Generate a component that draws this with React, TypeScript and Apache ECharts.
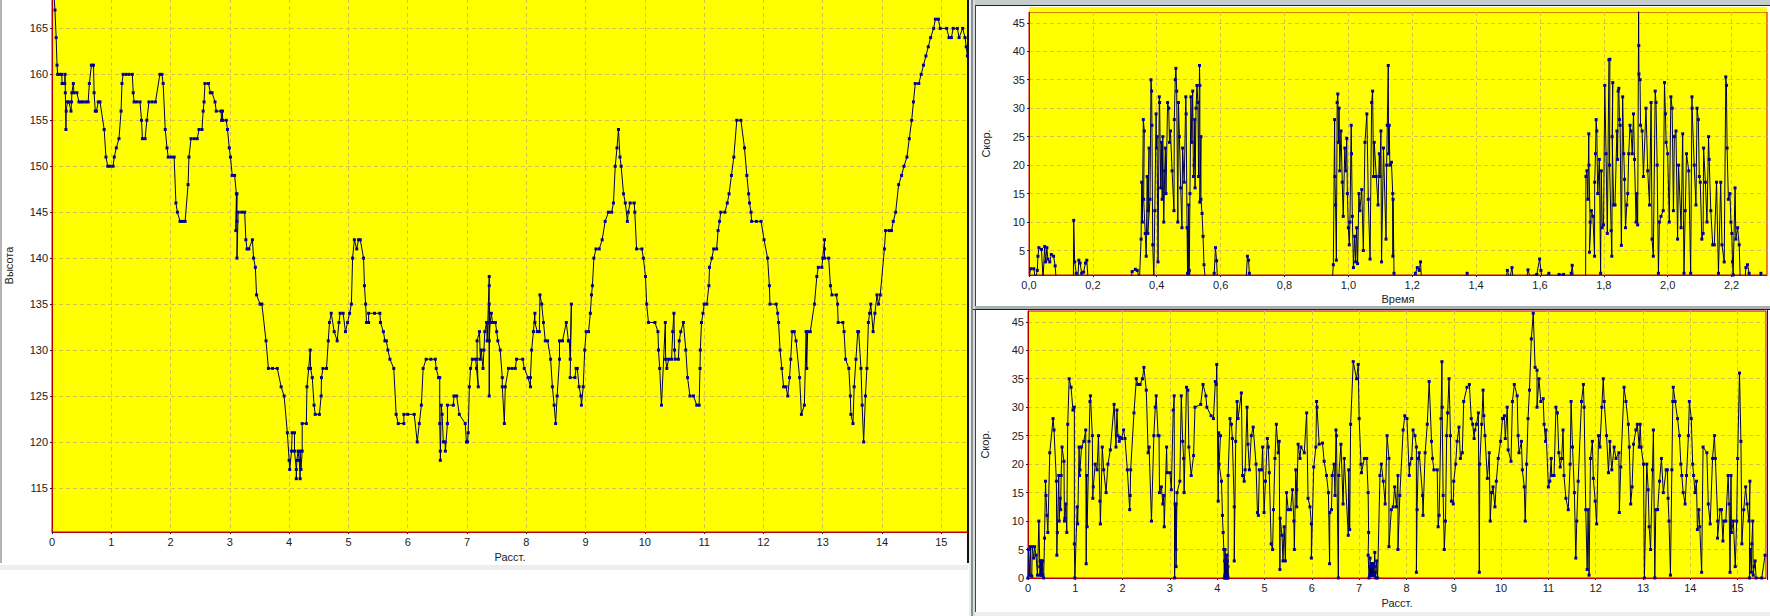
import React, { useEffect, useRef } from "react";
import * as echarts from "echarts";

const altitudeTicks = [115, 120, 125, 130, 135, 140, 145, 150, 155, 160, 165];
const distanceTicks = [0, 1, 2, 3, 4, 5, 6, 7, 8, 9, 10, 11, 12, 13, 14, 15];
const speedTicksTop = [5, 10, 15, 20, 25, 30, 35, 40, 45];
const speedTicksBottom = [0, 5, 10, 15, 20, 25, 30, 35, 40, 45];
const timeTicks = [0, 0.2, 0.4, 0.6, 0.8, 1.0, 1.2, 1.4, 1.6, 1.8, 2.0, 2.2];

const altitudeA: number[][] = [
  [0.03, 169],[0.05, 167],[0.07, 164],[0.085, 161],[0.095, 160],[0.13, 160],[0.165, 160],[0.17, 159],[0.185, 159],[0.215, 159],[0.22, 160],[0.225, 158],[0.235, 154],[0.24, 156],[0.26, 157],[0.285, 157],[0.32, 156],[0.33, 157],[0.335, 158],[0.36, 159],[0.37, 158],[0.42, 158],[0.455, 157],[0.49, 157],[0.525, 157],[0.57, 157],[0.61, 157],[0.63, 159],[0.665, 161],[0.70, 161],[0.71, 158],[0.73, 156],[0.75, 156],[0.78, 157],[0.81, 157],[0.88, 154],[0.91, 151],[0.94, 150],[0.98, 150],[1.03, 150],[1.05, 151],[1.085, 152],[1.13, 153],[1.165, 156],[1.18, 159],[1.2, 160],[1.25, 160],[1.3, 160],[1.355, 160],[1.37, 158],[1.385, 157],[1.43, 157],[1.485, 157],[1.51, 155],[1.525, 153],[1.57, 153],[1.60, 155],[1.635, 157],[1.69, 157],[1.745, 157],[1.82, 160],[1.855, 160],[1.875, 159],[1.91, 154],[1.94, 152],[1.96, 151],[2.01, 151],[2.06, 151],[2.09, 146],[2.115, 145],[2.16, 144],[2.2, 144],[2.245, 144],[2.295, 148],[2.31, 151],[2.345, 153],[2.4, 153],[2.45, 153],[2.48, 154],[2.53, 154],[2.55, 156],[2.565, 157],[2.58, 159],[2.64, 159],[2.67, 158],[2.70, 158],[2.75, 157],[2.77, 156],[2.85, 156],[2.86, 155],[2.875, 156],[2.88, 155],[2.94, 155],[2.96, 154],[2.99, 152],[3.01, 151],[3.04, 149],[3.08, 149],[3.11, 147],[3.1, 143],[3.12, 147],[3.12, 144],[3.12, 140],[3.14, 145],[3.2, 145],[3.25, 145],[3.27, 142],[3.29, 141],[3.32, 141],[3.38, 142],[3.40, 140],[3.43, 139],[3.45, 136],[3.51, 135],[3.54, 135],[3.61, 131],[3.65, 128],[3.72, 128],[3.80, 128],[3.865, 126],[3.915, 125],[3.97, 121],[4.00, 118],[4.01, 117],[4.04, 119],[4.05, 121],[4.09, 121],[4.09, 119],[4.12, 117],[4.12, 116],[4.13, 118],[4.15, 119],[4.17, 118],[4.185, 116],[4.185, 119],[4.2, 117],[4.22, 119],[4.22, 122],[4.29, 122],[4.30, 126],[4.33, 128],[4.355, 130],[4.36, 128],[4.39, 127],[4.42, 124],[4.44, 123],[4.51, 123],[4.54, 125],[4.545, 127],[4.57, 128],[4.63, 128],[4.66, 131],[4.68, 133],[4.71, 134],[4.76, 132],[4.81, 131],[4.84, 133],[4.86, 134],[4.91, 134],[4.95, 132],[4.985, 133],[5.02, 134],[5.05, 135],[5.07, 140],[5.10, 142],[5.14, 141],[5.17, 142],[5.20, 142],[5.255, 140],[5.27, 137],[5.29, 135],[5.305, 133],[5.34, 133],[5.34, 134],[5.44, 134],[5.53, 134],[5.54, 133],[5.59, 132],[5.615, 131],[5.64, 131],[5.665, 130],[5.70, 129],[5.765, 128],[5.805, 123],[5.84, 122],[5.935, 122],[5.935, 123],[6.00, 123],[6.11, 123],[6.16, 120],[6.195, 122],[6.23, 124],[6.26, 128],[6.31, 129],[6.39, 129],[6.465, 129],[6.48, 128],[6.52, 127],[6.54, 127],[6.54, 122],[6.55, 119],[6.55, 118],[6.565, 124],[6.58, 123],[6.60, 120],[6.63, 120],[6.635, 119],[6.67, 122],[6.67, 124],[6.77, 124],[6.78, 125],[6.825, 125],[6.87, 123],[6.97, 122],[6.99, 120],[7.01, 120],[7.02, 121],[7.04, 126],[7.06, 128],[7.09, 129],[7.145, 129],[7.16, 128],[7.19, 126],[7.17, 129],[7.17, 131],[7.21, 132],[7.225, 129],[7.24, 130],[7.27, 128],[7.285, 130],[7.30, 132],[7.33, 133],[7.34, 131],[7.35, 133],[7.375, 138],[7.375, 137],[7.375, 125],[7.375, 135],[7.375, 131],[7.39, 133],[7.41, 134],[7.43, 133],[7.48, 133],[7.50, 132],[7.52, 131],[7.56, 130],[7.595, 127],[7.595, 126],[7.63, 122],[7.645, 126],[7.70, 128],[7.76, 128],[7.815, 128],[7.835, 129],[7.94, 129],[7.965, 128],[8.03, 127],[8.07, 126],[8.07, 127],[8.09, 130],[8.12, 132],[8.145, 134],[8.145, 133],[8.185, 132],[8.22, 132],[8.23, 136],[8.26, 135],[8.29, 133],[8.32, 131],[8.36, 131],[8.41, 129],[8.44, 126],[8.47, 124],[8.495, 122],[8.52, 125],[8.56, 129],[8.56, 131],[8.61, 131],[8.675, 133],[8.71, 131],[8.725, 131],[8.74, 129],[8.76, 135],[8.74, 127],[8.82, 127],[8.84, 128],[8.86, 128],[8.89, 126],[8.92, 125],[8.93, 124],[8.96, 126],[8.985, 130],[9.01, 132],[9.05, 132],[9.08, 134],[9.10, 136],[9.115, 137],[9.14, 140],[9.175, 141],[9.23, 141],[9.28, 142],[9.33, 144],[9.385, 145],[9.44, 145],[9.47, 146],[9.50, 150],[9.53, 152],[9.555, 154],[9.58, 151],[9.60, 150],[9.64, 147],[9.67, 146],[9.705, 144],[9.72, 145],[9.75, 146],[9.82, 146],[9.83, 145],[9.86, 141],[9.95, 141],[9.975, 140],[10.01, 138],[10.03, 135],[10.06, 133],[10.17, 133],[10.22, 132],[10.23, 130],[10.25, 128],[10.28, 124],[10.345, 133],[10.35, 129],[10.37, 128],[10.40, 129],[10.45, 129],[10.47, 132],[10.49, 134],[10.50, 130],[10.51, 129],[10.565, 129],[10.58, 131],[10.605, 132],[10.65, 133],[10.69, 130],[10.72, 127],[10.76, 125],[10.82, 125],[10.875, 124],[10.915, 124],[10.93, 128],[10.935, 130],[10.955, 133],[10.98, 134],[11.0, 135],[11.045, 135],[11.08, 137],[11.09, 139],[11.13, 140],[11.16, 141],[11.21, 141],[11.235, 143],[11.26, 144],[11.28, 145],[11.35, 145],[11.39, 146],[11.42, 147],[11.46, 149],[11.5, 151],[11.55, 155],[11.62, 155],[11.68, 152],[11.72, 149],[11.75, 147],[11.765, 146],[11.79, 145],[11.80, 144],[11.88, 144],[11.96, 144],[12.01, 142],[12.07, 140],[12.10, 137],[12.11, 135],[12.215, 135],[12.24, 134],[12.255, 133],[12.28, 130],[12.31, 128],[12.34, 126],[12.38, 126],[12.41, 125],[12.44, 127],[12.46, 129],[12.485, 132],[12.52, 132],[12.55, 131],[12.61, 127],[12.64, 123],[12.69, 124],[12.72, 132],[12.73, 128],[12.745, 132],[12.79, 132],[12.86, 135],[12.90, 138],[12.925, 139],[12.985, 139],[13.0, 140],[13.03, 142],[13.03, 141],[13.03, 140],[13.10, 140],[13.13, 137],[13.155, 136],[13.23, 136],[13.25, 135],[13.26, 133],[13.34, 133],[13.36, 132],[13.385, 129],[13.44, 128],[13.465, 125],[13.475, 123],[13.51, 122],[13.53, 126],[13.56, 129],[13.59, 132],[13.605, 132],[13.645, 128],[13.665, 124],[13.69, 120],[13.72, 125],[13.745, 128],[13.77, 133],[13.79, 134],[13.81, 135],[13.85, 132],[13.88, 134],[13.915, 136],[13.94, 135],[13.97, 136],[14.04, 141],[14.06, 143],[14.12, 143],[14.16, 143],[14.19, 144],[14.23, 145],[14.28, 148],[14.33, 149],[14.37, 150],[14.42, 151],[14.46, 153],[14.5, 155],[14.53, 157],[14.56, 159],[14.62, 159],[14.66, 160],[14.7, 161],[14.74, 162],[14.78, 163],[14.82, 164],[14.87, 165],[14.9, 166],[14.95, 166],[14.98, 165],[15.09, 165],[15.13, 164],[15.17, 164],[15.2, 165],[15.27, 165],[15.3, 164],[15.36, 165],[15.4, 164],[15.42, 163],[15.44, 162],
];

const speedByDistance: number[][] = [
  [0,0],[0.01,5],[0.03,0.5],[0.05,5.5],[0.06,0.5],[0.08,0.3],[0.09,5.5],[0.12,3.5],[0.14,5.5],[0.17,4],[0.2,0.5],[0.23,10],[0.25,2],[0.255,0.5],[0.26,3],[0.27,1],[0.275,3],[0.28,0.5],[0.29,3],[0.295,0.5],[0.31,3],[0.315,0.5],[0.33,0],[0.35,7],[0.37,17],[0.38,14.5],[0.40,11],[0.42,8],[0.46,22],[0.53,28],[0.55,26],[0.60,17],[0.61,4],[0.62,8],[0.65,18],[0.66,10],[0.68,14],[0.69,12],[0.70,18],[0.72,23],[0.76,20.5],[0.77,10],[0.78,10.5],[0.80,13],[0.82,8],[0.84,27],[0.87,35],[0.91,33.5],[0.95,29.5],[0.98,30],[0.98,6],[0.99,0],[1.04,12.5],[1.05,9.5],[1.08,23],[1.09,18],[1.1,19],[1.13,23],[1.18,24],[1.22,26],[1.23,2.5],[1.24,18],[1.25,9],[1.29,24],[1.31,31],[1.32,32],[1.36,25],[1.37,14],[1.38,16],[1.42,20],[1.46,19],[1.49,25],[1.52,13.5],[1.53,9.5],[1.57,23],[1.6,19],[1.65,15],[1.69,20],[1.74,22.5],[1.82,30.5],[1.86,23],[1.88,29.5],[1.9,25],[1.93,24],[1.95,24.7],[1.98,24.5],[2.02,26],[2.05,24.5],[2.1,19],[2.15,12],[2.16,14.5],[2.17,19],[2.24,29],[2.29,35],[2.32,34],[2.37,34],[2.42,35],[2.45,37],[2.5,33],[2.54,22],[2.56,23],[2.61,10],[2.66,25],[2.69,30],[2.71,32],[2.75,25],[2.77,25],[2.78,15],[2.82,16],[2.85,13],[2.87,14.5],[2.88,9],[2.93,23],[2.94,18.5],[3.0,18.5],[3.03,15.5],[3.07,29.5],[3.09,32],[3.1,0],[3.11,13],[3.12,9],[3.125,5],[3.13,13],[3.13,2],[3.15,15],[3.21,17],[3.24,32],[3.27,24],[3.29,21],[3.3,15],[3.35,33.5],[3.38,33],[3.4,23],[3.45,18],[3.5,21.5],[3.53,30],[3.65,30.5],[3.7,34],[3.76,32],[3.78,30],[3.87,28.5],[3.92,28],[3.96,34.5],[3.98,34],[3.99,37.5],[4.02,13.5],[4.03,25.5],[4.07,25],[4.04,20],[4.09,17],[4.11,11],[4.125,8],[4.14,5],[4.15,0],[4.155,3],[4.16,0.5],[4.165,5],[4.17,0],[4.175,3],[4.18,0.5],[4.185,4],[4.19,0],[4.195,3],[4.2,0.5],[4.205,4],[4.21,0],[4.215,3],[4.22,0.5],[4.225,2],[4.23,0],[4.23,18],[4.27,28],[4.3,27],[4.32,24.5],[4.36,12.5],[4.36,3],[4.39,24],[4.42,31],[4.44,28],[4.51,32.5],[4.535,18],[4.57,17],[4.59,19],[4.63,30],[4.65,23.5],[4.68,19],[4.72,25],[4.76,26.5],[4.82,20],[4.85,11.5],[4.87,11],[4.89,19],[4.94,19],[4.96,23],[4.99,11.5],[5.02,17],[5.06,24.5],[5.08,23],[5.1,18.5],[5.14,6],[5.17,5],[5.19,12],[5.22,21],[5.25,27],[5.29,22],[5.31,24],[5.325,1.5],[5.33,10.5],[5.37,7.5],[5.39,3],[5.415,9],[5.44,3],[5.465,15],[5.5,12],[5.55,12],[5.59,15.5],[5.62,10],[5.63,5],[5.66,19],[5.68,15.5],[5.68,12.5],[5.71,23.5],[5.75,21],[5.77,23],[5.84,22],[5.89,29],[5.92,14],[5.96,12.5],[5.99,9.5],[5.99,3.5],[6.04,19.5],[6.085,23],[6.1,31],[6.11,30],[6.155,23.5],[6.225,23.7],[6.26,20.5],[6.31,18],[6.35,15],[6.375,2.5],[6.38,11.5],[6.415,12],[6.43,18],[6.47,20],[6.49,14.5],[6.51,26],[6.52,25],[6.56,0],[6.57,18],[6.615,23.5],[6.66,13],[6.685,21],[6.77,7.5],[6.78,19],[6.8,8.5],[6.82,27],[6.875,38],[6.945,35],[6.98,37.5],[7.0,28],[7.04,20],[7.05,18.5],[7.11,21],[7.16,21],[7.19,15],[7.2,8],[7.19,4],[7.21,0],[7.22,2],[7.225,0.5],[7.23,3.5],[7.235,0.5],[7.24,2],[7.245,0.5],[7.25,2],[7.255,0.5],[7.26,2.5],[7.265,0.5],[7.27,2],[7.275,0.5],[7.28,2.5],[7.285,0.5],[7.29,2],[7.295,0.5],[7.30,2.5],[7.31,0.5],[7.32,2],[7.33,4.5],[7.34,1],[7.35,0],[7.37,3],[7.39,0],[7.44,18],[7.47,20],[7.51,17],[7.55,13],[7.59,25],[7.63,21],[7.63,5.5],[7.68,12],[7.72,12.5],[7.75,16],[7.79,12.5],[7.82,18],[7.82,5],[7.86,14.5],[7.93,26],[7.965,28.5],[8.01,28],[8.06,18],[8.07,20],[8.11,21],[8.14,26],[8.18,25],[8.21,23],[8.21,1],[8.225,12],[8.25,21],[8.27,22],[8.34,14.5],[8.35,11],[8.395,22],[8.44,27],[8.48,34.5],[8.53,24],[8.55,21],[8.58,19],[8.65,19],[8.67,9],[8.69,11],[8.73,28],[8.75,38],[8.755,30],[8.775,14.5],[8.8,5],[8.825,10],[8.85,25],[8.87,29],[8.9,35],[8.93,25],[8.95,13.5],[8.99,13],[9.0,17],[9.04,20],[9.07,24],[9.11,26.5],[9.14,21],[9.18,22],[9.21,31],[9.28,33.5],[9.33,34],[9.37,28],[9.4,27],[9.43,24.5],[9.445,26],[9.48,27],[9.52,29],[9.54,1],[9.55,20],[9.59,27],[9.62,33],[9.635,28.5],[9.66,25],[9.71,17.5],[9.75,22],[9.77,10],[9.8,15],[9.83,16],[9.87,12.5],[9.9,17],[9.94,21],[9.99,24],[10.03,28],[10.07,28.5],[10.09,24.5],[10.13,30],[10.15,22.5],[10.21,20.5],[10.24,31],[10.28,34],[10.34,32],[10.36,25],[10.38,22],[10.43,24],[10.45,19],[10.49,16],[10.51,10],[10.54,20],[10.57,28],[10.6,33],[10.64,42],[10.68,46.5],[10.72,37],[10.76,36.5],[10.76,30],[10.8,35],[10.84,31],[10.89,31.5],[10.91,27],[10.94,24],[10.95,26],[11,16],[11.03,17],[11.06,21],[11.07,18],[11.12,18],[11.16,30],[11.19,29],[11.22,22],[11.25,19.5],[11.28,21],[11.31,26],[11.33,18],[11.37,14],[11.42,12],[11.46,20],[11.48,31],[11.51,23],[11.55,15],[11.58,3.5],[11.6,10],[11.63,17],[11.7,31],[11.74,34],[11.755,30],[11.79,12],[11.82,1.5],[11.84,12],[11.86,0.5],[11.89,21],[11.93,24],[11.95,17.5],[11.99,13.5],[12.02,9.5],[12.06,25],[12.09,23],[12.13,30],[12.16,35],[12.18,31],[12.23,25],[12.27,18.5],[12.3,24],[12.34,19],[12.39,23],[12.43,21],[12.49,22],[12.5,11.5],[12.53,19.5],[12.6,33.5],[12.64,31],[12.69,27],[12.71,23],[12.74,13],[12.77,16],[12.8,23.5],[12.85,26],[12.88,27],[12.92,23],[12.94,27],[12.96,23],[13.01,20],[13.03,0],[13.08,20],[13.11,15.5],[13.13,9],[13.16,5],[13.2,19],[13.22,26],[13.25,0],[13.27,12],[13.31,12],[13.35,17],[13.39,21],[13.43,15],[13.49,19],[13.515,19],[13.53,14],[13.55,10],[13.58,0.5],[13.61,19],[13.63,31],[13.64,33.5],[13.68,31],[13.73,28],[13.77,25],[13.8,20],[13.82,18],[13.85,15],[13.89,13],[13.92,18],[13.96,25],[13.98,31],[14.02,28],[14.05,20],[14.07,18],[14.1,15],[14.13,17],[14.15,8.5],[14.18,12],[14.2,9],[14.24,1],[14.27,23],[14.35,22],[14.38,13],[14.42,9.5],[14.47,21],[14.51,25],[14.53,21],[14.58,10],[14.575,7],[14.63,12],[14.66,12],[14.69,6.5],[14.71,10],[14.75,10],[14.8,18],[14.82,13],[14.84,1],[14.86,18],[14.87,8],[14.91,10],[14.95,2],[14.98,10],[15.0,21],[15.04,36],[15.07,24],[15.09,6],[15.13,12],[15.17,16],[15.2,13],[15.24,10],[15.26,17],[15.25,0],[15.27,5],[15.29,1],[15.3,6],[15.32,10],[15.33,0.5],[15.35,2],[15.37,3],[15.39,0],[15.51,0],[15.58,4],
];

const speedByTime: number[][] = [
  [0,0],[0.005,1.8],[0.015,1.8],[0.02,0],[0.026,1.5],[0.028,4],[0.031,5.5],[0.039,5.2],[0.044,0],[0.049,5.7],[0.052,3],[0.056,5.5],[0.059,3.5],[0.065,3],[0.07,4.3],[0.077,4],[0.082,2.3],[0.085,0],[0.139,0],[0.14,10.3],[0.143,3],[0.148,1],[0.153,0],[0.156,3.3],[0.16,2.8],[0.165,1],[0.171,1.2],[0.177,2.8],[0.181,3.3],[0.185,0],[0.32,0],[0.323,1.3],[0.333,1.7],[0.339,1.5],[0.346,0],
  [0.351,7],[0.353,17],[0.355,10],[0.358,28],[0.361,26],[0.359,14],[0.364,8],[0.367,4],[0.37,18],[0.373,12],[0.376,23],[0.372,8],[0.379,14],[0.382,35],[0.384,33],[0.385,27],[0.3875,6],[0.391,0],[0.394,12],[0.398,29],[0.399,23],[0.401,25],[0.404,3],[0.408,32],[0.409,31],[0.4125,16],[0.415,24],[0.417,14],[0.419,25],[0.422,10],[0.425,19],[0.427,23],[0.429,15],[0.434,31],[0.4375,30],[0.44,24],[0.443,26],[0.448,19],[0.454,12],[0.455,28],[0.458,35],[0.46,37],[0.4625,33],[0.466,10],[0.468,31],[0.471,25],[0.475,16],[0.479,9],[0.481,23],[0.486,17],[0.491,32],[0.492,29],[0.495,9],[0.4965,1],[0.497,9],[0.498,0],[0.499,9],[0.50,13],[0.5005,1],[0.502,1.5],[0.504,15],[0.507,32],[0.51,24],[0.5125,33],[0.515,18],[0.517,20],[0.518,21],[0.519,28],[0.52,16],[0.523,30],[0.526,34],[0.529,31],[0.531,18],[0.534,37.5],[0.535,34],[0.535,13.5],[0.5385,25],[0.5385,14],[0.542,11.5],[0.545,7.5],[0.548,2.5],[0.552,0],
  [0.578,0],[0.58,1],[0.584,5.5],[0.5875,3.2],[0.59,0],[0.68,0],[0.684,4],[0.6875,3.3],[0.69,1],[0.695,0],[0.95,0],
  [0.953,2.5],[0.957,28],[0.958,18],[0.96,13],[0.9625,3.3],[0.965,31],[0.967,32.5],[0.969,24],[0.971,30],[0.973,19],[0.977,26],[0.981,17],[0.984,11],[0.989,23],[0.992,19],[0.995,24.7],[0.997,15],[1.0,9],[1.003,6],[1.005,10],[1.009,27],[1.01,22],[1.0125,11],[1.016,2],[1.02,7.5],[1.023,3],[1.026,9],[1.029,2.7],[1.033,15],[1.036,12],[1.042,15.7],[1.047,5],[1.052,24],[1.058,29],[1.0625,14],[1.068,3.5],[1.073,31],[1.076,33],[1.079,18],[1.081,24],[1.0875,18],[1.093,13],[1.097,22],[1.099,18],[1.102,26],[1.104,3],[1.11,23],[1.118,7],[1.12,20],[1.122,27],[1.125,37.5],[1.126,22],[1.128,27],[1.13,20],[1.135,20.5],[1.139,15],[1.1395,4],[1.14,14],[1.143,1],[1.147,0],
  [1.205,0],[1.21,1],[1.216,2],[1.222,1.5],[1.226,3],[1.229,0],[1.368,0],[1.372,1],[1.376,0],[1.494,0],[1.498,1.5],[1.505,0],[1.5125,2],[1.516,0],[1.558,0],[1.5625,1.6],[1.568,0.5],[1.59,0.8],[1.599,3.5],[1.603,1.5],[1.607,0],[1.628,1],[1.635,0],[1.66,0.8],[1.674,0.8],[1.68,0],[1.695,0],[1.698,1],[1.701,2.4],[1.705,0],[1.743,0],
  [1.744,18],[1.747,19],[1.75,14],[1.753,25.5],[1.7535,20],[1.757,10],[1.755,4.7],[1.761,12],[1.766,11],[1.771,4],[1.7715,17],[1.774,22],[1.776,28],[1.778,26],[1.781,15],[1.786,21],[1.79,1],[1.792,19],[1.795,9],[1.799,9.5],[1.803,34],[1.807,22],[1.811,8],[1.816,38.5],[1.819,38.6],[1.818,20],[1.823,8.5],[1.825,4],[1.828,34.5],[1.826,25],[1.831,13],[1.835,13],[1.841,26],[1.843,21],[1.845,33],[1.847,33.5],[1.849,28],[1.851,27],[1.855,5.9],[1.859,32],[1.8625,22],[1.865,17.5],[1.868,9],[1.872,13],[1.875,15],[1.878,22],[1.882,27],[1.885,26],[1.889,22],[1.893,29],[1.896,21],[1.901,10],[1.903,15],[1.906,9.5],[1.909,47],[1.9095,41],[1.91,36],[1.9135,35],[1.915,27],[1.92,26],[1.924,18],[1.932,30],[1.9375,19],[1.943,13],[1.948,31],[1.951,7],[1.955,4],[1.961,33],[1.9635,31],[1.967,20],[1.971,1],[1.974,10],[1.979,11],[1.986,12],[1.99,34.5],[1.993,29],[1.995,24],[2.0,22],[2.005,10],[2.01,32],[2.014,30],[2.018,12],[2.021,25],[2.026,26],[2.031,7],[2.034,20],[2.042,9],[2.047,25.5],[2.051,1],[2.055,12],[2.059,22],[2.066,19],[2.072,1],[2.076,32],[2.0765,30],[2.083,20],[2.0885,13],[2.092,30],[2.096,28],[2.099,18],[2.102,17],[2.107,7],[2.111,8],[2.1125,23],[2.118,17],[2.123,10],[2.128,25],[2.13,21],[2.135,12],[2.141,6],[2.146,6],[2.153,17],[2.159,1],[2.166,17],[2.17,6],[2.177,3],[2.182,35.5],[2.184,34],[2.186,23],[2.19,14],[2.195,15],[2.198,10],[2.201,8],[2.203,3],[2.205,0.7],[2.211,16],[2.2135,7],[2.219,9],[2.224,6],[2.227,0],[2.242,0],[2.245,2],[2.25,2.5],[2.255,1],[2.26,0],[2.288,0],[2.292,1],[2.295,0],
];

const axisText = { color: "#222", fontSize: 11, fontFamily: "Liberation Sans" };
const gridDash = { color: "#d8c24a", type: [4, 3] as number[], width: 1 };
const redLine = { lineStyle: { color: "#c00000", width: 1 } };

function xAxisOf(gridIndex: number, min: number, max: number, ticks: number[], name: string, digits: number, gap: number) {
  return {
    type: "value", gridIndex, min, max, name, nameLocation: "middle", nameGap: gap,
    nameTextStyle: axisText,
    axisLine: { show: true, ...redLine },
    axisTick: { show: true, length: 2, customValues: ticks, lineStyle: { color: "#222" } },
    axisLabel: { ...axisText, margin: 4, customValues: ticks, formatter: (v: number) => v.toFixed(digits).replace(".", ",") },
    splitLine: { show: true, lineStyle: gridDash },
  };
}
function yAxisOf(gridIndex: number, min: number, max: number, ticks: number[], name: string, gap: number) {
  return {
    type: "value", gridIndex, min, max, name, nameLocation: "middle", nameGap: gap,
    nameTextStyle: axisText,
    axisLine: { show: true, ...redLine },
    axisTick: { show: true, length: 2, customValues: ticks, lineStyle: { color: "#222" } },
    axisLabel: { ...axisText, margin: 4, customValues: ticks },
    splitLine: { show: true, lineStyle: gridDash },
  };
}
function lineOf(i: number, data: number[][]) {
  return {
    type: "line", xAxisIndex: i, yAxisIndex: i, data, symbol: "rect", symbolSize: 3,
    showSymbol: true, showAllSymbols: true, connectNulls: false,
    lineStyle: { color: "#000050", width: 1 }, itemStyle: { color: "#00009a" },
    emphasis: { disabled: true },
  };
}
const panel = { show: true, outerBoundsMode: "none", backgroundColor: "#ffff00", borderColor: "#c00000", borderWidth: 1 };

function rect(x: number, y: number, width: number, height: number, fill: any) {
  return { type: "rect", shape: { x, y, width, height }, style: { fill }, silent: true };
}

export default function App() {
  const ref = useRef<HTMLDivElement>(null);
  useEffect(() => {
    const chart = echarts.init(ref.current!, undefined, { renderer: "svg" });
    chart.setOption({
      animation: false,
      backgroundColor: "#ffffff",
      grid: [
        { ...panel, left: 52, top: -1, width: 916, height: 533 },
        { ...panel, left: 1029, top: 12, width: 738, height: 263 },
        { ...panel, left: 1028, top: 311, width: 738, height: 267 },
      ],
      xAxis: [
        xAxisOf(0, 0, 15.45, distanceTicks, "Расст.", 0, 19),
        xAxisOf(1, 0, 2.311, timeTicks, "Время", 1, 18),
        xAxisOf(2, 0, 15.6, distanceTicks, "Расст.", 0, 19),
      ],
      yAxis: [
        yAxisOf(0, 110.2, 168.2, altitudeTicks, "Высота", 38),
        yAxisOf(1, 0.7, 46.9, speedTicksTop, "Скор.", 38),
        yAxisOf(2, 0, 46.9, speedTicksBottom, "Скор.", 38),
      ],
      series: [lineOf(0, altitudeA), lineOf(1, speedByTime), lineOf(2, speedByDistance)],
      graphic: [
        rect(0, 0, 2, 563, "#b4b4b4"),
        rect(0, 565, 968, 5, "#eeeeee"),
        rect(967, 0, 2, 563, "#101010"),
        rect(969, 0, 2, 616, "#e8ecec"),
        rect(971, 0, 2, 616, "#8a9090"),
        rect(973, 0, 2, 616, "#d8dcdc"),
        rect(975, 0, 795, 5, "#c4cccc"),
        rect(975, 5, 795, 1, "#202020"),
        rect(975, 5, 1, 301, "#404040"),
        rect(1029, 7, 738, 5, "#ffff00"),
        rect(975, 306, 795, 3, "#a8b0b0"),
        rect(973, 309, 797, 1, "#202020"),
        rect(975, 309, 1, 303, "#404040"),
        rect(1767, 310, 1, 270, "#202020"),
        rect(975, 612, 795, 4, "#eeeeee"),
      ],
    });
    return () => chart.dispose();
  }, []);
  return <div ref={ref} style={{ position: "fixed", left: 0, top: 0, width: 1770, height: 616 }} />;
}
